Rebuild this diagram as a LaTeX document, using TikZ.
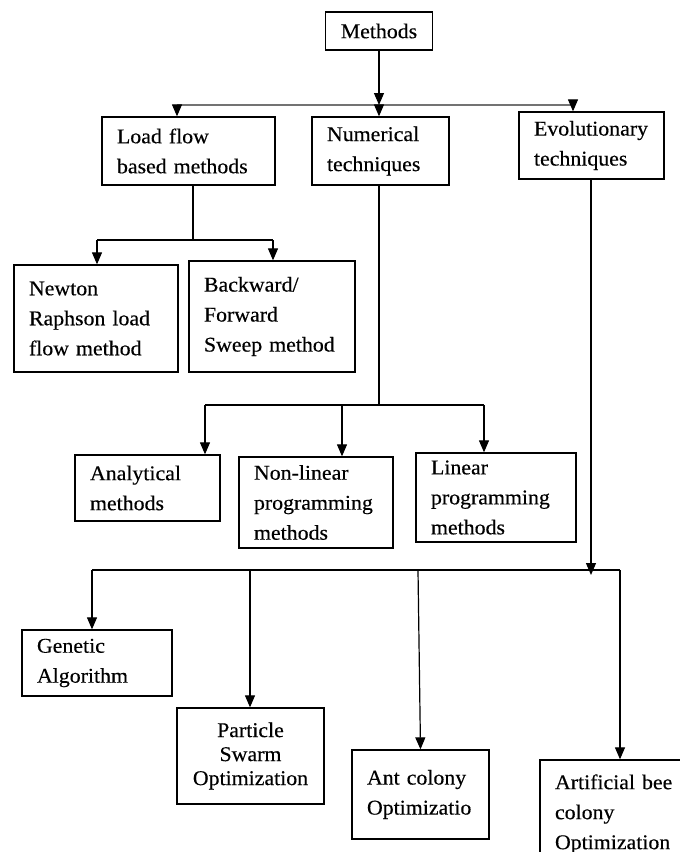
\documentclass[tikz,border=0pt]{standalone}
\usepackage{fontspec}
\setmainfont{Liberation Serif}[FakeStretch=1.04, WordSpace=0.6, FakeBold=0.3]
\usetikzlibrary{arrows.meta}
\tikzset{
  box/.style={draw, line width=1.3pt, inner xsep=15pt, inner ysep=0pt,
    align=left, font=\fontsize{21}{30}\selectfont},
  link/.style={line width=1.2pt},
  bus/.style={line width=2.2pt, black!55},
  arr/.style={link, -{Triangle[width=10pt,length=12pt]}}
}
\begin{document}
\begin{tikzpicture}[x=1pt,y=-1pt]
\clip (0,0) rectangle (680,852);
\fill[white] (0,0) rectangle (680,852);
% boxes
\node[box, align=center, minimum width=104pt, minimum height=38pt] (meth) at (379,31) {Methods};
\node[box, text width=143pt, minimum height=68pt] (load) at (188.5,151) {Load flow\\based methods};
\node[box, text width=107pt, minimum height=68pt] (num) at (380.5,151) {Numerical\\techniques};
\node[box, text width=115pt, minimum height=67pt] (evo) at (591.5,145.5) {Evolutionary\\techniques};
\node[box, text width=134pt, minimum height=107pt] (newton) at (96,318.5) {Newton\\Raphson load\\flow method};
\node[box, text width=136pt, minimum height=111pt] (bfs) at (272,316.5) {Backward/\\Forward\\Sweep method};
\node[box, text width=115pt, minimum height=66pt] (anal) at (147.5,488) {Analytical\\methods};
\node[box, text width=124pt, minimum height=91pt] (nlp) at (316,502.5) {Non-linear\\programming\\methods};
\node[box, text width=130pt, minimum height=89pt] (lp) at (496,497.5) {Linear\\programming\\methods};
\node[box, text width=120pt, minimum height=66pt] (ga) at (97,663) {Genetic\\Algorithm};
\node[box, align=center, text width=117pt, minimum height=96pt,
  font=\fontsize{21}{24}\selectfont] (pso) at (250.5,756) {Particle\\Swarm\\Optimization};
\node[box, text width=107pt, minimum height=89pt] (aco) at (420.5,794.5) {Ant colony\\Optimizatio};
\node[box, text width=140pt, minimum height=108pt] (abc) at (625,814) {Artificial bee\\colony\\Optimization};
% first level
\coordinate (t) at (379,105);
\coordinate (tl) at (177,105);
\coordinate (tr) at (573,105);
\draw[bus] (tl) -- (tr);
\draw[arr] (meth.south) -- (t);
\draw[arr] (tl) -- (tl |- load.north);
\draw[arr] (t) -- (t |- num.north);
\draw[arr] (tr) -- (tr |- evo.north);
% load flow branch
\coordinate (l) at (193,240);
\coordinate (ll) at (97,240);
\coordinate (lr) at (273,240);
\draw[link] (l |- load.south) -- (l);
\draw[link] (ll) -- (lr);
\draw[arr] (ll) -- (ll |- newton.north);
\draw[arr] (lr) -- (lr |- bfs.north);
% numerical branch
\coordinate (n) at (379,405);
\coordinate (nl) at (205,405);
\coordinate (nm) at (342,405);
\coordinate (nr) at (484,405);
\draw[link] (n |- num.south) -- (n);
\draw[link] (nl) -- (nr);
\draw[arr] (nl) -- (nl |- anal.north);
\draw[arr] (nm) -- (nm |- nlp.north);
\draw[arr] (nr) -- (nr |- lp.north);
% evolutionary branch
\coordinate (e) at (591,575);
\coordinate (el) at (92,570);
\coordinate (e1) at (250,570);
\coordinate (e2) at (418,570);
\coordinate (er) at (620,570);
\draw[link] (el) -- (er);
\draw[arr] (e |- evo.south) -- (e);
\draw[arr] (el) -- (el |- ga.north);
\draw[arr] (e1) -- (e1 |- pso.north);
\draw[arr] (e2) -- (aco.north);
\draw[arr] (er) -- (er |- abc.north);
\end{tikzpicture}
\end{document}
